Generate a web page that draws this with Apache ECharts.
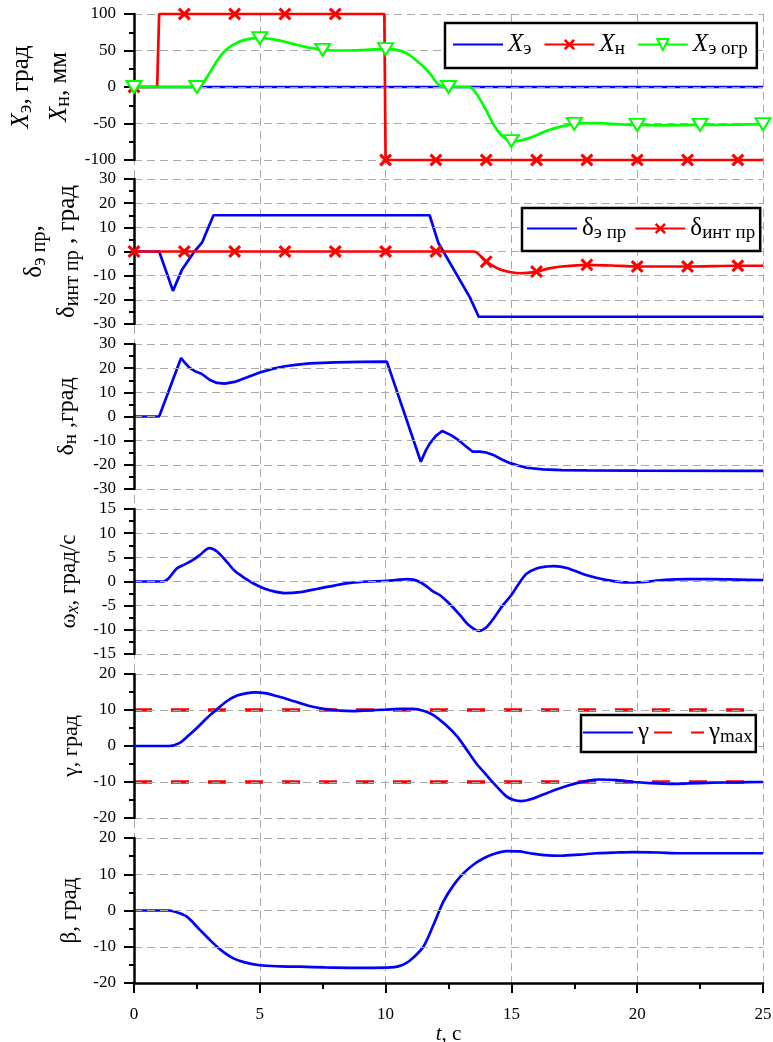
<!DOCTYPE html>
<html><head><meta charset="utf-8">
<script src="https://cdn.jsdelivr.net/npm/echarts@6/dist/echarts.min.js"></script>
<style>html,body{margin:0;padding:0;background:#fff}#c{width:773px;height:1042px}</style>
</head><body><div id="c"></div><script>
// ---------------- DATA ----------------
const xTicks = [0, 5, 10, 15, 20, 25];
// Panel 1
const xE = [[0,0],[25,0]];
const xN = [[0,0],[0.92,0],[1.0,100],[2,100],[4,100],[6,100],[8,100],[9.95,100],[10,-100],[12,-100],[14,-100],[16,-100],[18,-100],[20,-100],[22,-100],[24,-100],[25,-100]];
const xNMarks = [0,2,4,6,8,10,12,14,16,18,20,22,24];
const xEogr = [[0,0],[2.5,0],[2.65,2],[2.8,8],[3.0,19],[3.3,36],[3.6,49],[3.9,57],[4.3,63.5],[4.7,66.5],[5,67],[5.5,65.5],[6,62],[6.5,57.5],[7,53.5],[7.5,51],[8,50],[8.5,50],[9,50.5],[9.5,51.5],[10,52],[10.3,51.5],[10.6,49.5],[10.9,45],[11.2,37],[11.5,28],[11.8,17],[12.0,7],[12.2,1],[12.35,0],[12.5,0],[13.3,0],[13.5,-4],[13.75,-17],[14,-32],[14.3,-52],[14.6,-66],[14.9,-73],[15,-74],[15.2,-74],[15.6,-71],[16,-66],[16.4,-60],[17,-54],[17.5,-50.5],[18,-49.5],[18.5,-49.5],[19,-50.5],[20,-52],[21,-52.5],[22.5,-52],[24,-51.5],[25,-51]];
const xEogrMarks = [0,2.5,5,7.5,10,12.5,15,17.5,20,22.5,25];
// Panel 2
const dEpr = [[0,0],[1.0,0],[1.55,-16.3],[1.9,-7.7],[2.17,-3.5],[2.38,-0.3],[2.71,3.8],[3.16,15],[11.75,15],[12.1,3.5],[13.35,-19],[13.7,-27],[25,-27]];
const dInt = [[0,0],[2,0],[4,0],[6,0],[8,0],[10,0],[12,0],[13.5,0],[14,-4.2],[14.5,-7.2],[15,-8.6],[15.35,-9],[16,-8.3],[16.5,-7],[17,-6.2],[18,-5.5],[19,-5.8],[20,-6.2],[22,-6.2],[24,-5.9],[25,-5.9]];
const dIntMarks = [0,2,4,6,8,10,12,14,16,18,20,22,24];
// Panel 3
const dN = [[0,0],[1.0,0],[1.87,24.2],[2.0,22.5],[2.2,20.2],[2.45,18.6],[2.7,17.6],[3.0,15.2],[3.3,13.9],[3.6,13.6],[4.0,14.3],[4.5,16.2],[5,18.2],[5.5,19.7],[6,20.8],[6.5,21.5],[7,22],[8,22.4],[9,22.6],[10.05,22.7],[11.4,-18.7],[11.6,-14],[11.76,-11.1],[12.0,-8],[12.25,-6],[12.6,-7.7],[12.9,-9.8],[13.2,-12.4],[13.45,-14.5],[13.75,-14.5],[14.0,-14.9],[14.28,-15.9],[14.6,-17.7],[14.95,-19.3],[15.3,-20.4],[15.6,-21.2],[16.25,-21.9],[17,-22.2],[18,-22.3],[20,-22.4],[25,-22.5]];
// Panel 4
const wx = [[0,0],[1.15,0],[1.35,0.5],[1.7,2.7],[2.0,3.5],[2.3,4.3],[2.6,5.4],[3.0,6.9],[3.3,6.2],[3.7,4.0],[4.0,2.2],[4.4,0.7],[4.75,-0.4],[5.2,-1.5],[5.6,-2.1],[6.0,-2.4],[6.6,-2.2],[7.3,-1.5],[8,-0.8],[8.6,-0.3],[9.3,0],[9.9,0.1],[10.4,0.3],[10.85,0.5],[11.1,0.4],[11.4,-0.2],[11.7,-1.3],[11.9,-2.1],[12.15,-2.8],[12.5,-4.4],[12.95,-6.9],[13.3,-9],[13.7,-10.2],[14.0,-9.5],[14.3,-7.6],[14.65,-5],[15.0,-2.8],[15.3,-0.4],[15.6,1.6],[16.0,2.7],[16.4,3.1],[16.7,3.2],[17.2,2.8],[18,1.3],[18.8,0.3],[19.6,-0.2],[20.3,-0.1],[21,0.3],[22,0.5],[23,0.5],[24,0.4],[25,0.3]];
// Panel 5
const gamma = [[0,0],[1.4,0],[1.8,0.8],[2.1,2.5],[2.5,5],[2.9,7.8],[3.3,10.2],[3.7,12.5],[4.1,14],[4.5,14.7],[4.8,14.9],[5.2,14.7],[5.7,13.8],[6.2,12.8],[6.6,11.9],[7.1,10.9],[7.65,10.2],[8.2,9.8],[8.7,9.7],[9.3,9.9],[10,10.1],[10.6,10.3],[11.1,10.3],[11.5,9.8],[11.9,8.6],[12.4,5.8],[12.85,2.6],[13.2,-0.8],[13.6,-4.8],[14.0,-8],[14.3,-10.4],[14.8,-14],[15.1,-15],[15.4,-15.3],[15.9,-14.5],[16.4,-13.1],[16.9,-11.8],[17.45,-10.6],[18,-9.7],[18.5,-9.3],[19.2,-9.5],[19.85,-10],[20.5,-10.3],[21.3,-10.5],[22,-10.4],[23,-10.2],[24,-10.1],[25,-10]];
const gammaMaxUp = [[0,10],[25,10]];
const gammaMaxDn = [[0,-10],[25,-10]];
// Panel 6
const beta = [[0,0],[1.4,0],[1.7,-0.5],[2.1,-1.7],[2.6,-5.2],[3.0,-8],[3.3,-10],[3.6,-11.7],[3.95,-13.2],[4.4,-14.3],[5,-15.1],[5.8,-15.4],[6.6,-15.5],[7.6,-15.7],[8.6,-15.8],[9.5,-15.8],[10.2,-15.7],[10.5,-15.4],[10.8,-14.6],[11.1,-13],[11.5,-10],[11.9,-4],[12.3,2.5],[12.7,7],[13.1,10.3],[13.5,12.7],[13.9,14.4],[14.3,15.6],[14.8,16.4],[15.3,16.3],[15.75,15.8],[16.3,15.3],[16.95,15.1],[17.7,15.4],[18.4,15.8],[19.2,16],[19.85,16.1],[20.8,16],[21.7,15.8],[23,15.8],[25,15.8]];

// y axis ranges per panel: [min, max, interval]
const yRanges = [[-100,100,50],[-30,30,10],[-30,30,10],[-15,15,5],[-20,20,10],[-20,20,10]];

// ---------------- STYLE / LAYOUT ----------------
const SERIF = '"Liberation Serif","Times New Roman",serif';
const tops = [14, 179, 344, 509, 674, 838];
const heights = [146, 145, 145, 145, 144, 145];
const gridDash = {color:'#aaa', type:[8,5], width:1};
const XPATH = 'path://M0,2 L2,0 L6,4 L10,0 L12,2 L8,6 L12,10 L10,12 L6,8 L2,12 L0,10 L4,6 Z';

function rich(lh, fs, sfs, pad) {
  return {
    n: {fontFamily:SERIF, fontSize:fs, color:'#000', lineHeight:lh},
    i: {fontFamily:SERIF, fontSize:fs, fontStyle:'italic', color:'#000', lineHeight:lh},
    s: {fontFamily:SERIF, fontSize:sfs, color:'#000', padding:[pad,0,0,0]},
    si: {fontFamily:SERIF, fontSize:sfs, fontStyle:'italic', color:'#000', padding:[pad,0,0,0]}
  };
}

function withMarks(pts, marks) {
  return pts.map(p => {
    const on = marks.some(m => Math.abs(m - p[0]) < 1e-6);
    return on ? {value:p} : {value:p, symbol:'none'};
  });
}

const yNames = [
  {name:'{i|X}{s|э}{n|, град}\n{i|X}{s|н}{n|, мм}', gap:55, lh:38, fs:25, sfs:20},
  {name:'{n|δ}{s|э пр}{n|,}\n{n|δ}{s|инт пр}{n| , град}', gap:50, lh:33, fs:25, sfs:20},
  {name:'{n|δ}{s|н}{n| ,град}', gap:53, lh:26, fs:24, sfs:19},
  {name:'{n|ω}{si|x}{n|, град/с}', gap:51, lh:26, fs:23, sfs:18},
  {name:'{n|γ, град}', gap:50, lh:26, fs:22, sfs:17},
  {name:'{n|β, град}', gap:51, lh:26, fs:23, sfs:18}
];

const grids = [], xAxes = [], yAxes = [];
for (let i = 0; i < 6; i++) {
  grids.push({left:134, right:10, top:tops[i], height:heights[i], outerBoundsMode:'none', containLabel:false});
  const last = i === 5;
  xAxes.push({
    gridIndex:i, type:'value', min:0, max:25, interval:5, show:last,
    axisLine:{show:true, onZero:false, lineStyle:{color:'#000', width:2.5}},
    axisTick:{show:true, length:10, lineStyle:{color:'#000', width:2}},
    minorTick:{show:true, splitNumber:2, length:6, lineStyle:{color:'#000', width:2}},
    axisLabel:{fontFamily:SERIF, fontSize:17, color:'#000', margin:23},
    splitLine:{show:false},
    name: last ? '{i|t}{n|, с}' : '',
    nameLocation:'middle', nameGap:35,
    nameTextStyle:{fontFamily:SERIF, fontSize:21, color:'#000', rich:rich(24, 21, 15, 9)},
    z:3
  });
  const r = yRanges[i];
  const yn = yNames[i];
  yAxes.push({
    gridIndex:i, type:'value', min:r[0], max:r[1], interval:r[2],
    axisLine:{show:true, onZero:false, lineStyle:{color:'#000', width:2.5}},
    axisTick:{show:true, length:10, lineStyle:{color:'#000', width:2}},
    minorTick:{show:true, splitNumber:2, length:5, lineStyle:{color:'#000', width:2}},
    axisLabel:{fontFamily:SERIF, fontSize:17, color:'#000', margin:18},
    splitLine:{show:true, lineStyle:gridDash},
    name:yn.name, nameLocation:'middle', nameGap:yn.gap,
    nameTextStyle:{fontFamily:SERIF, fontSize:yn.fs, color:'#000', rich:rich(yn.lh, yn.fs, yn.sfs, Math.round(yn.fs*0.4))},
    z:3
  });
}
// background grid for vertical dashed lines across all panels
grids.push({left:134, right:10, top:14, bottom:59, outerBoundsMode:'none', containLabel:false});
xAxes.push({gridIndex:6, type:'value', min:0, max:25, interval:5,
  axisLine:{show:false}, axisTick:{show:false}, axisLabel:{show:false},
  splitLine:{show:true, lineStyle:gridDash}, z:0});
yAxes.push({gridIndex:6, type:'value', min:0, max:1, show:false});

const legendNames = {
  'Xэ':'{i|X}{s|э}', 'Xн':'{i|X}{s|н}', 'Xэ огр':'{i|X}{s|э огр}',
  'δэ пр':'{n|δ}{s|э пр}', 'δинт пр':'{n|δ}{s|инт пр}',
  'γ':'{n|γ}', 'γmax':'{n|γ}{s|max}'
};
function legendCfg(names, left, top, padding, gap, iw) {
  return {
    data:names, left:left, top:top, orient:'horizontal', padding:padding, itemGap:gap,
    itemWidth:iw, itemHeight:14, borderColor:'#000', borderWidth:2.5, borderRadius:0,
    backgroundColor:'#fff', selectedMode:false,
    textStyle:{fontFamily:SERIF, fontSize:25, color:'#000', rich:rich(28, 25, 19, 10)},
    formatter: n => legendNames[n] || n
  };
}
const noSym = n => ({name:n, itemStyle:{opacity:0}});

const BLUE = '#0000ff', RED = '#ff0000', GREEN = '#00ff00';
const LW = 2.7;
const series = [
  {name:'Xэ', type:'line', xAxisIndex:0, yAxisIndex:0, data:xE, symbol:'none', lineStyle:{color:BLUE, width:LW}, itemStyle:{color:BLUE}, z:2},
  {name:'Xн', type:'line', xAxisIndex:0, yAxisIndex:0, data:withMarks(xN, xNMarks), symbol:XPATH, symbolSize:13, clip:false,
    lineStyle:{color:RED, width:LW}, itemStyle:{color:RED}, z:3},
  {name:'Xэ огр', type:'line', xAxisIndex:0, yAxisIndex:0, data:withMarks(xEogr, xEogrMarks), smooth:0.25,
    symbol:'triangle', symbolRotate:180, symbolSize:[15,12],
    lineStyle:{color:GREEN, width:LW}, itemStyle:{color:'#fff', borderColor:GREEN, borderWidth:2}, z:4},
  {name:'δэ пр', type:'line', xAxisIndex:1, yAxisIndex:1, data:dEpr, symbol:'none', lineStyle:{color:BLUE, width:LW}, itemStyle:{color:BLUE}, z:2},
  {name:'δинт пр', type:'line', xAxisIndex:1, yAxisIndex:1, data:withMarks(dInt, dIntMarks), smooth:0.3, symbol:XPATH, symbolSize:13,
    lineStyle:{color:RED, width:LW}, itemStyle:{color:RED}, z:3},
  {name:'δн', type:'line', xAxisIndex:2, yAxisIndex:2, data:dN, symbol:'none', lineStyle:{color:BLUE, width:LW}, z:2},
  {name:'ωx', type:'line', xAxisIndex:3, yAxisIndex:3, data:wx, symbol:'none', smooth:0.3, lineStyle:{color:BLUE, width:LW}, z:2},
  {name:'γmax', type:'line', xAxisIndex:4, yAxisIndex:4, data:gammaMaxUp, symbol:'none', lineStyle:{color:RED, width:3.5, type:[18,19]}, itemStyle:{color:RED}, z:2},
  {name:'γmax', type:'line', xAxisIndex:4, yAxisIndex:4, data:gammaMaxDn, symbol:'none', lineStyle:{color:RED, width:3.5, type:[18,19]}, itemStyle:{color:RED}, z:2},
  {name:'γ', type:'line', xAxisIndex:4, yAxisIndex:4, data:gamma, symbol:'none', smooth:0.3, lineStyle:{color:BLUE, width:LW}, itemStyle:{color:BLUE}, z:3},
  {name:'β', type:'line', xAxisIndex:5, yAxisIndex:5, data:beta, symbol:'none', smooth:0.3, lineStyle:{color:BLUE, width:LW}, z:2}
];

const chart = echarts.init(document.getElementById('c'), null, {renderer:'canvas'});
chart.setOption({
  animation:false,
  backgroundColor:'#fff',
  grid:grids, xAxis:xAxes, yAxis:yAxes,
  legend:[
    legendCfg([noSym('Xэ'),'Xн','Xэ огр'], 445, 23, [9,9,9,7], 12, 50),
    legendCfg([noSym('δэ пр'),'δинт пр'], 522, 208, [8,5,8,4], 8, 50),
    legendCfg([noSym('γ'),noSym('γmax')], 581, 715, [5,3,5,1], 4, 50)
  ],
  series:series
});
</script></body></html>
